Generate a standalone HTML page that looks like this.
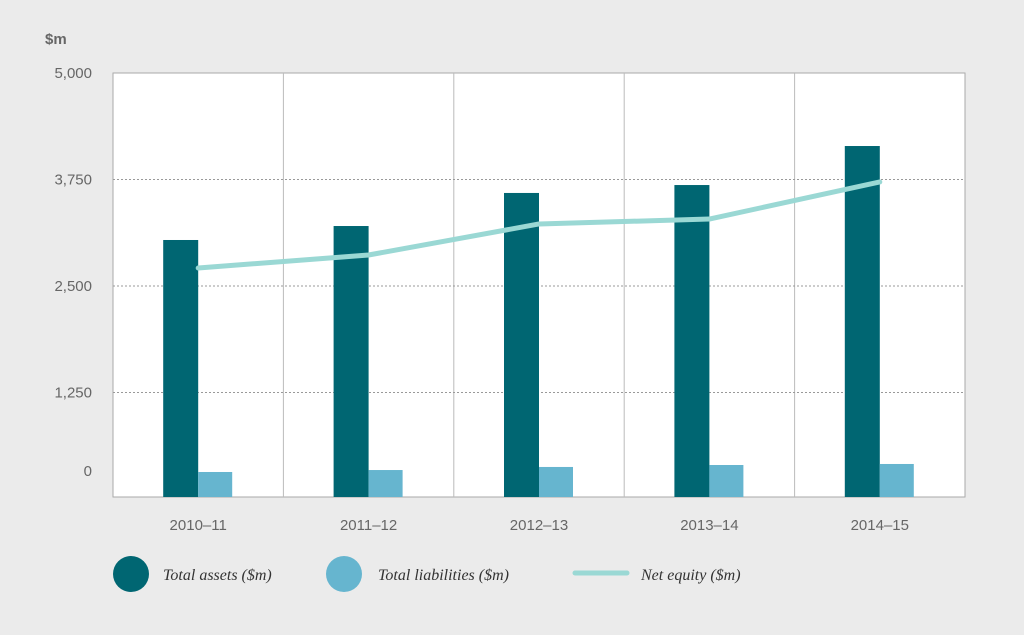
<!DOCTYPE html>
<html><head><meta charset="utf-8"><style>
body{margin:0;background:#ebebeb;width:1024px;height:630px;overflow:hidden;font-family:"Liberation Sans",sans-serif}
</style></head><body>
<svg id="chart" width="1024" height="630" xmlns="http://www.w3.org/2000/svg"></svg>
<script>
const categories=["2010–11","2011–12","2012–13","2013–14","2014–15"];
const totalAssets=[3040,3204,3592,3685,4143];
const totalLiabilities=[317,340,376,399,411];
const netEquity=[2711,2864,3228,3286,3721];
const yTicks=[0,1250,2500,3750,5000];
const yTickLabels=["0","1,250","2,500","3,750","5,000"];

const svg=document.getElementById('chart');
const NS="http://www.w3.org/2000/svg";
const L=113,R=965,T=73,B=497,Y0=499;
const bw=(R-L)/categories.length;
function y(v){return Y0-(v/5000)*(Y0-T);}
function xc(i){return L+bw*(i+0.5);}
function mk(tag,a,parent){const e=document.createElementNS(NS,tag);for(const k in a)e.setAttribute(k,a[k]);(parent||svg).appendChild(e);return e;}

const plot=mk('rect',{x:L,y:T,width:R-L,height:B-T,fill:'#fff',stroke:'#aaa','stroke-width':1});



for(let i=1;i<categories.length;i++){
  const l=mk('line',{x1:L+bw*i,x2:L+bw*i,y1:T,y2:B,stroke:'#bbb','stroke-width':1});
  
  
}
yTicks.forEach((t,i)=>{
  const gy=t===0?B:y(t);
  if(t>0&&t<5000){
    const g=mk('line',{x1:L,x2:R,y1:y(t),y2:y(t),stroke:'#999','stroke-width':1,'stroke-dasharray':'2,2'});
    
    
  }
  const ty=t===0?476:y(t)+5;
  const tx=mk('text',{x:92,y:ty,'text-anchor':'end','font-size':15,fill:'#666'});
  tx.textContent=yTickLabels[i];
  
  
});
const unit=mk('text',{x:45,y:44,'font-size':15,fill:'#666','font-weight':'bold'});
unit.textContent='$m';



categories.forEach((c,i)=>{
  const cx=xc(i);
  const a=mk('rect',{x:cx-35,y:y(totalAssets[i]),width:35,height:B-y(totalAssets[i]),fill:'#006672'});
  
  
  const b=mk('rect',{x:cx,y:y(totalLiabilities[i]),width:34,height:B-y(totalLiabilities[i]),fill:'#66b5cf'});
  
  
  const t=mk('text',{x:cx,y:530,'text-anchor':'middle','font-size':15,fill:'#666'});
  t.textContent=c;
  
  
});
const pts=netEquity.map((v,i)=>xc(i)+','+y(v)).join(' ');
const line=mk('polyline',{points:pts,fill:'none',stroke:'#9ad8d4','stroke-width':5,'stroke-linecap':'round','stroke-linejoin':'round'});



const leg=[['circle','#006672','Total assets ($m)',131,163],['circle','#66b5cf','Total liabilities ($m)',344,378],['line','#9ad8d4','Net equity ($m)',0,641]];
leg.forEach(([k,c,lab,px,tx])=>{
  const g=mk('g',{});
  
  
  if(k==='circle')mk('circle',{cx:px,cy:574,r:18,fill:c},g);
  else mk('line',{x1:575,x2:627,y1:573,y2:573,stroke:c,'stroke-width':5,'stroke-linecap':'round'},g);
  const t=mk('text',{x:tx,y:580,'font-size':16,'font-style':'italic','font-family':'Liberation Serif,serif',fill:'#333'},g);
  t.textContent=lab;
});
</script>
</body></html>
